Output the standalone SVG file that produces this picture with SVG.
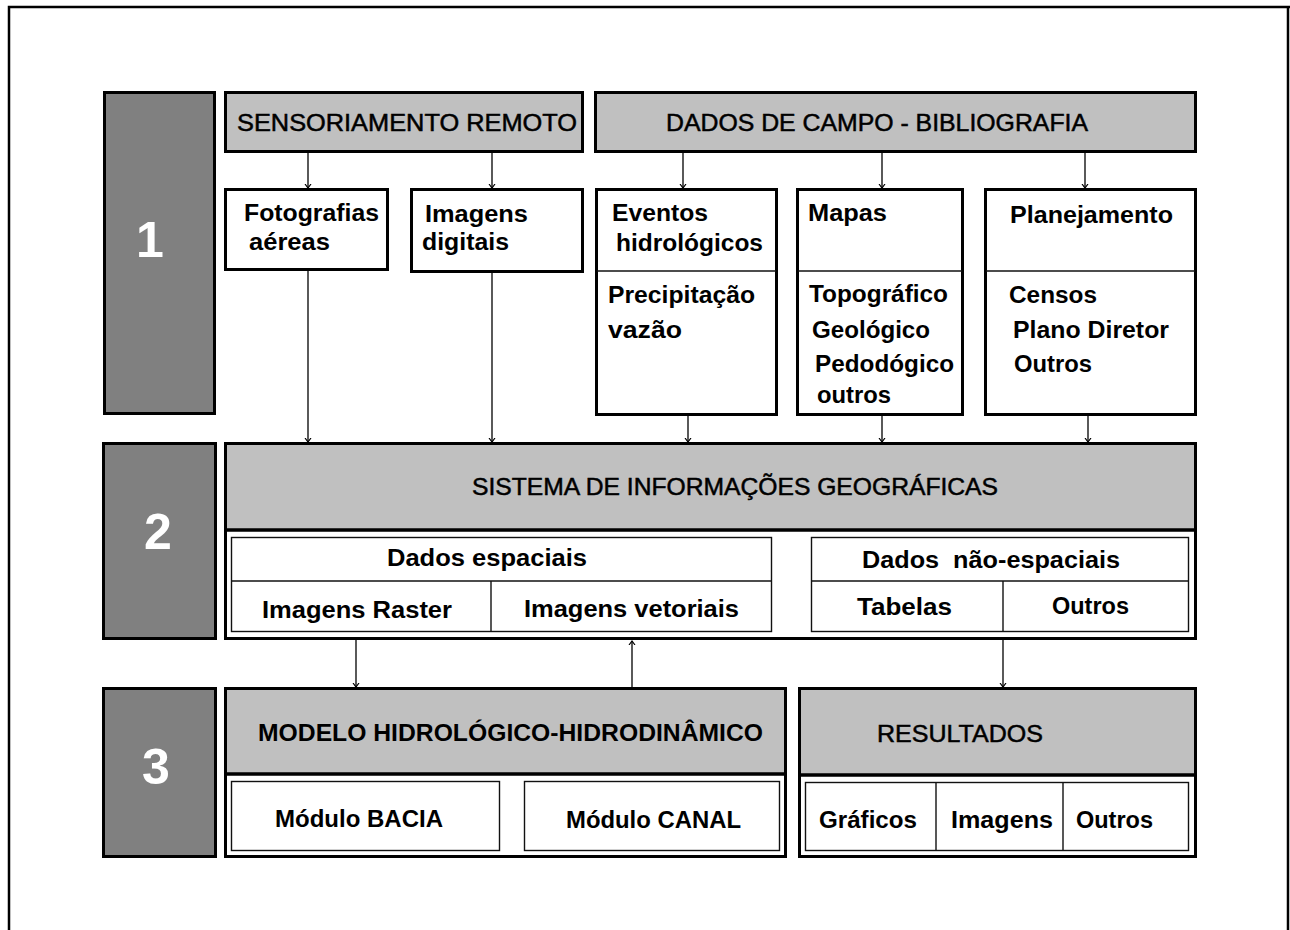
<svg xmlns="http://www.w3.org/2000/svg" width="1290" height="930" viewBox="0 0 1290 930">
<defs>
<style>
.frame{stroke:#000;stroke-width:2.5;fill:none}
.num{fill:#808080;stroke:#000;stroke-width:3}
.hdr{fill:#c0c0c0;stroke:#000;stroke-width:3}
.box{fill:#fff;stroke:#000;stroke-width:3}
.sep{stroke:#000;stroke-width:3;fill:none}
.sub{fill:#fff;stroke:#111;stroke-width:1.4}
.thin{stroke:#111;stroke-width:1.4;fill:none}
.conn{stroke:#000;stroke-width:1.3;fill:none}
text{font-family:"Liberation Sans",Arial,sans-serif;fill:#000}
.h{font-size:24px;stroke:#000;stroke-width:0.5}
.hb{font-size:24px;font-weight:bold}
.t{font-size:23px;font-weight:bold}
.n{font-size:50px;font-weight:bold;fill:#fff;text-anchor:middle}
</style>
<marker id="ah" markerUnits="userSpaceOnUse" markerWidth="10" markerHeight="10" refX="4" refY="5" orient="auto">
<path d="M0,2 L4,5 L0,8" fill="none" stroke="#000" stroke-width="1.2"/>
</marker>
</defs>
<rect width="1290" height="930" fill="#fff"/>
<path class="frame" d="M9,930 V7 H1290 M1288,7 V930"/>

<g id="row1-label"><rect class="num" x="104.5" y="92.5" width="110" height="321"/><text class="n" x="150" y="257">1</text></g>
<g id="row2-label"><rect class="num" x="103.5" y="443.5" width="112" height="195"/><text class="n" x="158" y="549">2</text></g>
<g id="row3-label"><rect class="num" x="103.5" y="688.5" width="112" height="168"/><text class="n" x="156" y="784">3</text></g>

<g id="sensoriamento"><rect class="hdr" x="225.5" y="92.5" width="357" height="59"/><text class="h" x="237" y="131" textLength="340" lengthAdjust="spacingAndGlyphs">SENSORIAMENTO REMOTO</text></g>
<g id="dados-campo"><rect class="hdr" x="595.5" y="92.5" width="600" height="59"/><text class="h" x="666" y="131" textLength="422" lengthAdjust="spacingAndGlyphs">DADOS DE CAMPO - BIBLIOGRAFIA</text></g>

<g id="fotografias"><rect class="box" x="225.5" y="189.5" width="162" height="80"/>
<text class="t" x="244" y="221" textLength="135" lengthAdjust="spacingAndGlyphs">Fotografias</text>
<text class="t" x="249" y="250" textLength="81" lengthAdjust="spacingAndGlyphs">aéreas</text></g>
<g id="imagens-digitais"><rect class="box" x="411.5" y="189.5" width="171" height="82"/>
<text class="t" x="425" y="222" textLength="103" lengthAdjust="spacingAndGlyphs">Imagens</text>
<text class="t" x="422" y="250" textLength="87" lengthAdjust="spacingAndGlyphs">digitais</text></g>
<g id="eventos"><rect class="box" x="596.5" y="189.5" width="180" height="225"/><line class="thin" x1="597" y1="271" x2="776" y2="271"/>
<text class="t" x="612" y="221" textLength="96" lengthAdjust="spacingAndGlyphs">Eventos</text>
<text class="t" x="616" y="251" textLength="147" lengthAdjust="spacingAndGlyphs">hidrológicos</text>
<text class="t" x="608" y="303" textLength="147" lengthAdjust="spacingAndGlyphs">Precipitação</text>
<text class="t" x="608" y="338" textLength="74" lengthAdjust="spacingAndGlyphs">vazão</text></g>
<g id="mapas"><rect class="box" x="797.5" y="189.5" width="165" height="225"/><line class="thin" x1="798" y1="271" x2="962" y2="271"/>
<text class="t" x="808" y="221" textLength="79" lengthAdjust="spacingAndGlyphs">Mapas</text>
<text class="t" x="809" y="302" textLength="139" lengthAdjust="spacingAndGlyphs">Topográfico</text>
<text class="t" x="812" y="338" textLength="118" lengthAdjust="spacingAndGlyphs">Geológico</text>
<text class="t" x="815" y="372" textLength="139" lengthAdjust="spacingAndGlyphs">Pedodógico</text>
<text class="t" x="817" y="403" textLength="74" lengthAdjust="spacingAndGlyphs">outros</text></g>
<g id="planejamento"><rect class="box" x="985.5" y="189.5" width="210" height="225"/><line class="thin" x1="986" y1="271" x2="1195" y2="271"/>
<text class="t" x="1010" y="223" textLength="163" lengthAdjust="spacingAndGlyphs">Planejamento</text>
<text class="t" x="1009" y="303" textLength="88" lengthAdjust="spacingAndGlyphs">Censos</text>
<text class="t" x="1013" y="338" textLength="156" lengthAdjust="spacingAndGlyphs">Plano Diretor</text>
<text class="t" x="1014" y="372" textLength="78" lengthAdjust="spacingAndGlyphs">Outros</text></g>

<g id="sig"><rect class="hdr" x="225.5" y="443.5" width="970" height="87"/><rect class="box" x="225.5" y="530" width="970" height="108.5"/><line class="sep" x1="225" y1="530" x2="1196" y2="530"/>
<text class="h" x="472" y="495" textLength="526" lengthAdjust="spacingAndGlyphs">SISTEMA DE INFORMAÇÕES GEOGRÁFICAS</text></g>
<g id="dados-espaciais"><rect class="sub" x="231.5" y="537.5" width="540" height="94"/><line class="thin" x1="232" y1="581" x2="771" y2="581"/><line class="thin" x1="491" y1="581" x2="491" y2="631"/>
<text class="t" x="387" y="566" textLength="200" lengthAdjust="spacingAndGlyphs">Dados espaciais</text>
<text class="t" x="262" y="618" textLength="190" lengthAdjust="spacingAndGlyphs">Imagens Raster</text>
<text class="t" x="524" y="617" textLength="215" lengthAdjust="spacingAndGlyphs">Imagens vetoriais</text></g>
<g id="dados-nao-espaciais"><rect class="sub" x="811.5" y="537.5" width="377" height="94"/><line class="thin" x1="812" y1="581" x2="1188" y2="581"/><line class="thin" x1="1003" y1="581" x2="1003" y2="631"/>
<text class="t" x="862" y="568" textLength="258" lengthAdjust="spacingAndGlyphs" xml:space="preserve">Dados  não-espaciais</text>
<text class="t" x="857" y="615" textLength="95" lengthAdjust="spacingAndGlyphs">Tabelas</text>
<text class="t" x="1052" y="614" textLength="77" lengthAdjust="spacingAndGlyphs">Outros</text></g>

<g id="modelo"><rect class="hdr" x="225.5" y="688.5" width="560" height="86"/><rect class="box" x="225.5" y="774" width="560" height="82.5"/><line class="sep" x1="225" y1="774" x2="786" y2="774"/>
<text class="hb" x="258" y="741" textLength="505" lengthAdjust="spacingAndGlyphs">MODELO HIDROLÓGICO-HIDRODINÂMICO</text></g>
<g id="modulo-bacia"><rect class="sub" x="231.5" y="781.5" width="268" height="69"/>
<text class="t" x="275" y="827" textLength="168" lengthAdjust="spacingAndGlyphs">Módulo BACIA</text></g>
<g id="modulo-canal"><rect class="sub" x="524.5" y="781.5" width="255" height="69"/>
<text class="t" x="566" y="828" textLength="175" lengthAdjust="spacingAndGlyphs">Módulo CANAL</text></g>

<g id="resultados"><rect class="hdr" x="799.5" y="688.5" width="396" height="87"/><rect class="box" x="799.5" y="775" width="396" height="81.5"/><line class="sep" x1="799" y1="775" x2="1196" y2="775"/>
<text class="h" x="877" y="742" textLength="166" lengthAdjust="spacingAndGlyphs">RESULTADOS</text></g>
<g id="resultados-itens"><rect class="sub" x="805.5" y="782.5" width="383" height="68"/><line class="thin" x1="936" y1="783" x2="936" y2="850"/><line class="thin" x1="1063" y1="783" x2="1063" y2="850"/>
<text class="t" x="819" y="828" textLength="98" lengthAdjust="spacingAndGlyphs">Gráficos</text>
<text class="t" x="951" y="828" textLength="102" lengthAdjust="spacingAndGlyphs">Imagens</text>
<text class="t" x="1076" y="828" textLength="77" lengthAdjust="spacingAndGlyphs">Outros</text></g>

<g id="connectors">
<line class="conn" x1="308" y1="153" x2="308" y2="188" marker-end="url(#ah)"/>
<line class="conn" x1="492" y1="153" x2="492" y2="188" marker-end="url(#ah)"/>
<line class="conn" x1="683" y1="153" x2="683" y2="188" marker-end="url(#ah)"/>
<line class="conn" x1="882" y1="153" x2="882" y2="188" marker-end="url(#ah)"/>
<line class="conn" x1="1085" y1="153" x2="1085" y2="188" marker-end="url(#ah)"/>
<line class="conn" x1="308" y1="271" x2="308" y2="442" marker-end="url(#ah)"/>
<line class="conn" x1="492" y1="273" x2="492" y2="442" marker-end="url(#ah)"/>
<line class="conn" x1="688" y1="416" x2="688" y2="442" marker-end="url(#ah)"/>
<line class="conn" x1="882" y1="416" x2="882" y2="442" marker-end="url(#ah)"/>
<line class="conn" x1="1088" y1="416" x2="1088" y2="442" marker-end="url(#ah)"/>
<line class="conn" x1="356" y1="640" x2="356" y2="687" marker-end="url(#ah)"/>
<line class="conn" x1="632" y1="687" x2="632" y2="641" marker-end="url(#ah)"/>
<line class="conn" x1="1003" y1="640" x2="1003" y2="687" marker-end="url(#ah)"/>
</g>
</svg>
